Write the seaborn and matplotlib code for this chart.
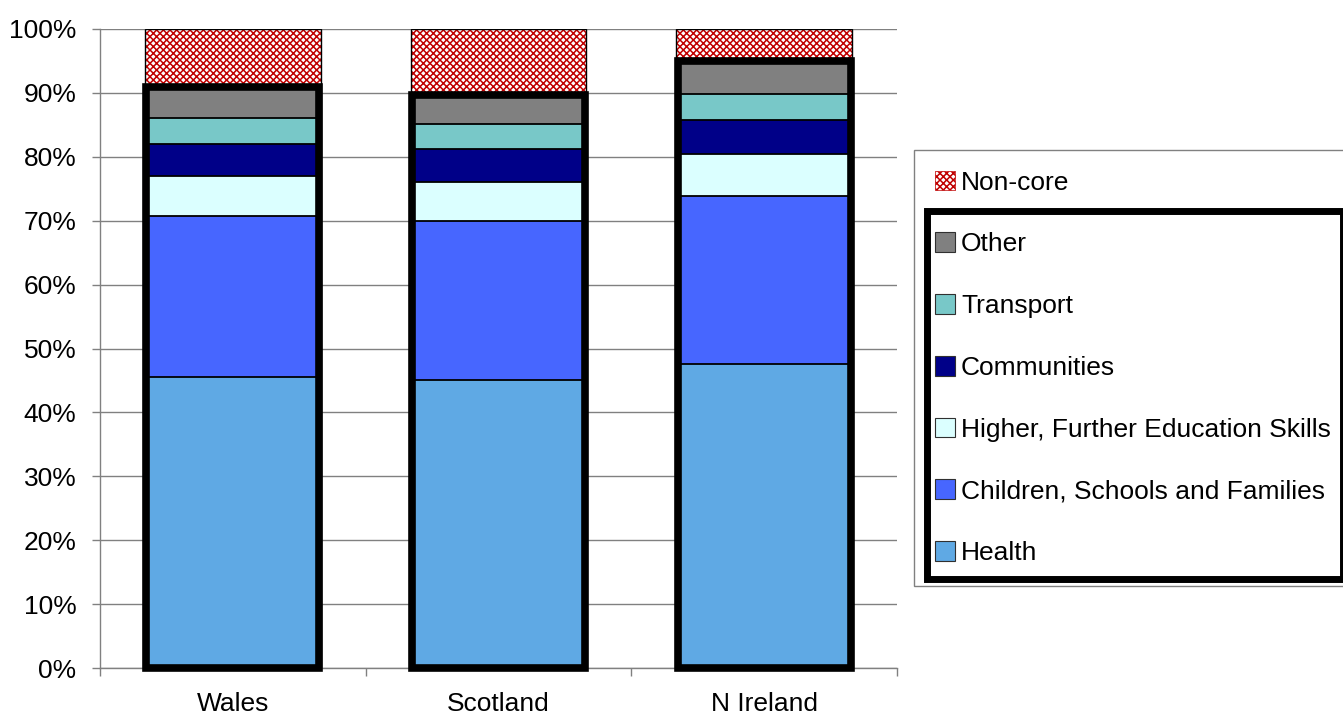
import matplotlib
matplotlib.use("Agg")
import matplotlib.pyplot as plt
import seaborn as sns
import pandas as pd
import numpy as np
from matplotlib.patches import Rectangle, Patch

# ---------------- data ----------------
regions = ["Wales", "Scotland", "N Ireland"]
health = [45.6, 45.1, 47.6]
children = [25.1, 24.9, 26.3]
higher = [6.3, 6.1, 6.5]
communities = [5.0, 5.1, 5.3]
transport = [4.1, 4.0, 4.2]
other = [4.8, 4.5, 5.1]
non_core = [9.1, 10.3, 5.0]

y_ticks = [0, 10, 20, 30, 40, 50, 60, 70, 80, 90, 100]
y_tick_labels = ["0%", "10%", "20%", "30%", "40%", "50%", "60%", "70%", "80%", "90%", "100%"]

series_names = ["Health", "Children, Schools and Families",
                "Higher, Further Education Skills", "Communities",
                "Transport", "Other"]
series_values = [health, children, higher, communities, transport, other]
colors = ["#5FA9E4", "#4766FF", "#DBFFFF", "#000088", "#78C8C8", "#808080"]
noncore_color = "#C00000"

# ---------------- style ----------------
sns.set_style("white")
plt.rcParams['font.family'] = ['Liberation Sans', 'DejaVu Sans']
plt.rcParams['hatch.linewidth'] = 1.1

FS = 19
W, H = 1343, 717
fig = plt.figure(figsize=(W / 100, H / 100), dpi=100)
ax = fig.add_axes([100 / W, 1 - 668 / H, 797 / W, 639 / H])

# cumulative sums
cums = []
running = np.zeros(len(regions))
for vals in series_values:
    running = running + np.array(vals)
    cums.append(running.copy())
core_total = cums[-1]
grand_total = core_total + np.array(non_core)

bw = 0.66
# non-core (hatched) full bar
df = pd.DataFrame({"region": regions, "value": grand_total})
sns.barplot(data=df, x="region", y="value", order=regions, color="white",
            facecolor="white", edgecolor=noncore_color, hatch="xxxxx",
            linewidth=0, width=bw, saturation=1, ax=ax, zorder=2)
sns.barplot(data=df, x="region", y="value", order=regions, color="white",
            facecolor="none", edgecolor="black", linewidth=1,
            width=bw, saturation=1, ax=ax, zorder=2)

# stacked core segments (draw cumulative totals from top to bottom)
for i in range(len(series_values) - 1, -1, -1):
    d = pd.DataFrame({"region": regions, "value": cums[i]})
    sns.barplot(data=d, x="region", y="value", order=regions, color=colors[i],
                edgecolor="black", linewidth=1.3, width=bw, saturation=1,
                ax=ax, zorder=3)

# thick outline around core total
d = pd.DataFrame({"region": regions, "value": core_total})
sns.barplot(data=d, x="region", y="value", order=regions, color="white",
            facecolor="none", edgecolor="black", linewidth=5.5,
            width=bw * 0.985, saturation=1, ax=ax, zorder=4, clip_on=False)

# ---------------- axes ----------------
ax.set_xlim(-0.5, 2.5)
ax.set_ylim(0, 100)
ax.set_xlabel("")
ax.set_ylabel("")
ax.set_yticks(y_ticks, labels=y_tick_labels)
ax.tick_params(axis="y", labelsize=FS, length=6, width=1, color="#808080",
               direction="out", left=True, pad=11, labelcolor="black")
ax.set_xticks(range(len(regions)), labels=regions)
ax.tick_params(axis="x", which="major", labelsize=FS, length=0, pad=17,
               labelcolor="black")
ax.set_xticks([-0.5, 0.5, 1.5, 2.5], minor=True)
ax.tick_params(axis="x", which="minor", length=6, width=1, color="#808080",
               direction="out", bottom=True)
ax.yaxis.grid(True, color="#808080", linewidth=1)
ax.xaxis.grid(False)
ax.set_axisbelow(True)
for s in ["top", "right"]:
    ax.spines[s].set_visible(False)
for s in ["left", "bottom"]:
    ax.spines[s].set_color("#808080")
    ax.spines[s].set_linewidth(1)
if ax.get_legend() is not None:
    ax.get_legend().remove()

# ---------------- legend ----------------
handles = [Patch(facecolor="white", edgecolor=noncore_color, hatch="xxxxx", linewidth=0.5)]
labels = ["Non-core"]
for i in range(len(series_names) - 1, -1, -1):
    handles.append(Patch(facecolor=colors[i], edgecolor="#303030", linewidth=0.8))
    labels.append(series_names[i])

leg = fig.legend(handles, labels, loc="upper left",
                 bbox_to_anchor=(914 / W, 1 - 150 / H), fontsize=FS,
                 frameon=True, fancybox=False, framealpha=1,
                 edgecolor="#808080", borderpad=0.78, labelspacing=1.43,
                 handlelength=0.77, handleheight=0.77, handletextpad=0.23,
                 borderaxespad=0)
leg.get_frame().set_linewidth(1)
for t in leg.get_texts():
    t.set_color("black")

inner = Rectangle((926.5 / W, 1 - 579 / H), (1343.5 - 926.5) / W, (579 - 211) / H,
                  transform=fig.transFigure, fill=False, edgecolor="black",
                  linewidth=5, zorder=10, clip_on=False)
fig.add_artist(inner)

fig.savefig("out.png", dpi=100)
